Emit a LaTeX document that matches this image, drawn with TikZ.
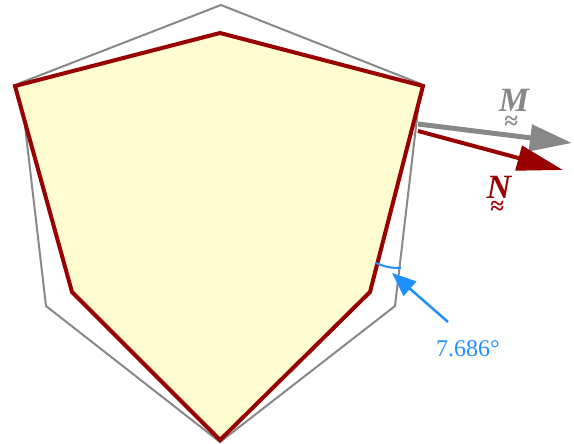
\documentclass[tikz,border=0pt]{standalone}
\usepackage{fontspec}
\setmainfont{Liberation Serif}
\usetikzlibrary{arrows.meta}
\definecolor{dred}{RGB}{153,0,0}
\definecolor{lgray}{RGB}{136,136,136}
\definecolor{pyellow}{RGB}{255,253,208}
\definecolor{skyblue}{RGB}{30,144,255}
\newcommand\tensorsym[2]{\setbox0\hbox{\bfseries\itshape #1}\copy0\llap{\hbox to \wd0{\hss\raisebox{-#2}{\fontsize{25}{25}\selectfont\bfseries ≈}\hss\hss}}}
\begin{document}
\begin{tikzpicture}[x=1pt,y=-1pt,
  hexline/.style={draw=lgray,line width=2pt,line join=miter},
  polyline/.style={draw=dred,line width=4pt,line join=miter,fill=pyellow},
  bluetrace/.style={draw=blue,line width=1pt},
  vecM/.style={draw=lgray,line width=5pt,-{Triangle[length=42pt,width=26pt]}},
  vecN/.style={draw=dred,line width=4pt,-{Triangle[length=46pt,width=25pt]}},
  anglearrow/.style={draw=skyblue,line width=2.5pt,-{Triangle[length=24pt,width=19pt]}},
  anglearc/.style={draw=skyblue,line width=2pt},
  lbl/.style={inner sep=0pt},
  biglbl/.style={lbl,anchor=base,font=\fontsize{34}{34}\selectfont}]
\useasboundingbox (0,0) rectangle (574,444);
% gray hexagon
\coordinate (h1) at (221,5);
\coordinate (h2) at (421,84);
\coordinate (h3) at (395,306);
\coordinate (h4) at (220,442);
\coordinate (h5) at (46,306);
\coordinate (h6) at (20,83);
% red polygon
\coordinate (p1) at (15,86);
\coordinate (p2) at (220,33);
\coordinate (p3) at (423,86);
\coordinate (p4) at (370,292);
\coordinate (p5) at (220,440);
\coordinate (p6) at (72,292);
\draw[hexline] (h1)--(h2)--(h3)--(h4)--(h5)--(h6)--cycle;
\draw[bluetrace,shift={(1.6,1)}] (p1)--(p2)--(p3)--(p4)--(p5)--(p6)--cycle;
\draw[polyline] (p1)--(p2)--(p3)--(p4)--(p5)--(p6)--cycle;
% vectors
\coordinate (m0) at (418,124);
\coordinate (m1) at (572,143);
\coordinate (n0) at (418,131);
\coordinate (n1) at (563,170);
\draw[vecM] (m0)--(m1);
\draw[vecN] (n0)--(n1);
\node[biglbl,text=lgray] (M) at (514,112) {\tensorsym{M}{18pt}};
\node[biglbl,text=dred] (N) at (499,199) {\tensorsym{N}{16pt}};
% angle
\coordinate (a0) at (376,263);
\coordinate (a1) at (401,268);
\draw[anglearc] (a0) to[bend right=12] (a1);
\coordinate (b0) at (448,322);
\coordinate (b1) at (392,273);
\draw[anglearrow] (b0)--(b1);
\node[lbl,text=skyblue,font=\fontsize{24}{24}\selectfont] (ang) at (468,349) {7.686°};
\end{tikzpicture}
\end{document}
